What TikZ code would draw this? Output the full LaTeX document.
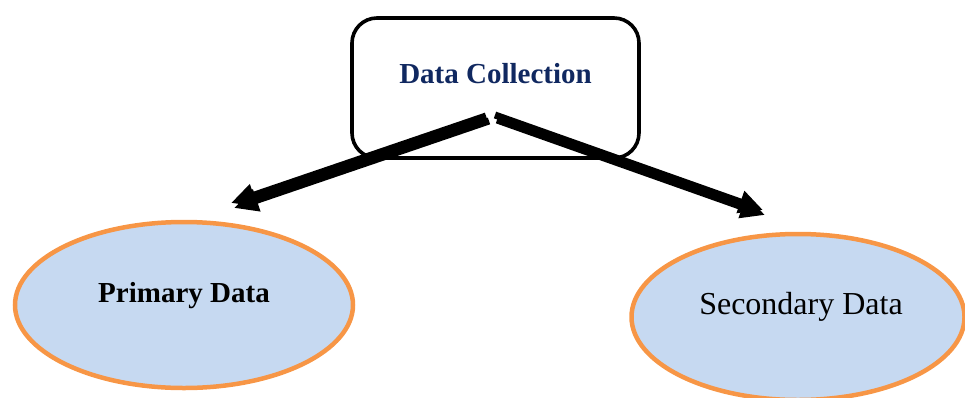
\documentclass[tikz,border=0pt]{standalone}
\usepackage{fontspec}
\setmainfont{Liberation Serif}
\usetikzlibrary{arrows.meta,shapes.geometric}
\definecolor{navy}{RGB}{16,40,96}
\definecolor{ellfill}{RGB}{198,217,241}
\definecolor{ellline}{RGB}{247,150,70}
\definecolor{shade}{RGB}{160,160,160}
\tikzset{
  box/.style={draw=black, line width=3.6pt, rounded corners=25pt, minimum width=287pt, minimum height=140pt, inner sep=0pt},
  oval/.style={ellipse, draw=ellline, fill=ellfill, line width=4.5pt, inner sep=0pt},
  conn/.style={line width=7pt, black, -{Triangle[length=24pt,width=22pt]}},
  connshadow/.style={line width=7pt, shade, -{Triangle[length=24pt,width=22pt]}},
  boldtxt/.style={font=\fontsize{29}{34}\selectfont\bfseries, anchor=base, inner sep=0pt},
  regtxt/.style={font=\fontsize{32}{38}\selectfont, anchor=base, inner sep=0pt}
}
\begin{document}
\begin{tikzpicture}[x=1pt,y=-1pt]
\useasboundingbox (0,0) rectangle (965,397);
% box
\node[box] (dc) at (495.5,88) {};
\node[boldtxt, text=navy] (dct) at (495.5,83) {Data Collection};
% ellipses
\node[oval, minimum width=338pt, minimum height=166pt] (pd) at (184,305) {};
\node[boldtxt] (pdt) at (184,302) {Primary Data};
\node[oval, minimum width=333pt, minimum height=166pt] (sd) at (798,317) {};
\node[regtxt] (sdt) at (801,314) {Secondary Data};
% connector endpoints
\coordinate (s1) at (486,116);
\coordinate (t1) at (231,203);
\coordinate (s2) at (495,115);
\coordinate (t2) at (763,210);
\coordinate (s1s) at (489,121);
\coordinate (t1s) at (234,208);
\coordinate (s2s) at (497,120);
\coordinate (t2s) at (765,215);
% shadows
\draw[connshadow] (s1s) -- (t1s);
\draw[connshadow] (s2s) -- (t2s);
% arrows
\draw[conn] (s1) -- (t1);
\draw[conn] (s2) -- (t2);
\end{tikzpicture}
\end{document}
